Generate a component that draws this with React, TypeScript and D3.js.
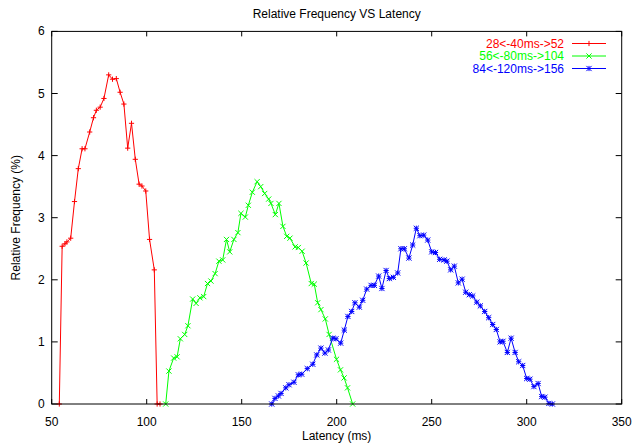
import React from "react";
import * as d3 from "d3";

const xTicks = [50, 100, 150, 200, 250, 300, 350];
const yTicks = [0, 1, 2, 3, 4, 5, 6];

const redX = [54, 55.5, 57, 58, 60, 62, 64, 66, 67.5, 70, 72, 73.5, 75.5, 77.5, 80, 82, 84, 86, 88, 90, 92, 94, 96, 97.5, 99.5, 101.5, 104, 105.5, 107];
const redY = [0, 2.54, 2.58, 2.61, 2.67, 3.26, 3.79, 4.11, 4.11, 4.38, 4.61, 4.73, 4.78, 4.92, 5.30, 5.23, 5.24, 5.02, 4.83, 4.12, 4.52, 3.94, 3.54, 3.51, 3.43, 2.65, 2.16, 0, 0];

const greenX = [110, 111.7, 114.2, 116, 117.7, 120, 121.7, 124.2, 126, 128, 130, 132, 133.8, 136, 138, 140, 142, 143.7, 145.9, 148, 149.6, 151.9, 153.5, 155.6, 158.1, 160, 162.1, 164.2, 165.4, 167.7, 169.6, 171.7, 173.7, 175.4, 178.1, 179.8, 181.8, 183.9, 186.6, 188.2, 190, 191.7, 194, 196, 199.9, 202, 203.9, 205.7, 208.4];
const greenY = [0, 0.53, 0.74, 0.76, 1.05, 1.12, 1.26, 1.69, 1.62, 1.71, 1.73, 1.94, 1.98, 2.10, 2.30, 2.32, 2.65, 2.45, 2.65, 2.76, 3.07, 3.01, 3.20, 3.41, 3.58, 3.50, 3.39, 3.30, 3.23, 3.05, 3.23, 2.86, 2.70, 2.67, 2.53, 2.52, 2.46, 2.27, 1.94, 1.93, 1.63, 1.52, 1.37, 1.12, 0.72, 0.55, 0.42, 0.26, 0];

const blueX = [165.8, 167.5, 169.3, 170.7, 173.2, 174.9, 177.5, 179.8, 181.6, 184.5, 187.4, 189.5, 191.7, 193.8, 195.6, 197.9, 199.6, 202.1, 204, 205.9, 207.9, 209.6, 211.9, 213.7, 215.8, 218.1, 219.8, 222.1, 223.8, 226, 227.7, 229.8, 232.1, 233.8, 235.6, 238, 240, 241.9, 243.8, 245.8, 247.9, 250, 252, 254.2, 256.5, 258, 260, 261.9, 264, 266, 267.9, 269.8, 271.6, 273.7, 275.6, 277.9, 280, 282.1, 284, 286, 287.5, 289.8, 291.8, 293.9, 295.8, 297.9, 300, 301.7, 303.8, 306, 307.9, 309.6, 311.7, 313.5];
const blueY = [0, 0.09, 0.13, 0.17, 0.26, 0.31, 0.35, 0.47, 0.48, 0.57, 0.64, 0.79, 0.90, 0.82, 0.87, 1.06, 1.05, 0.98, 1.19, 1.41, 1.49, 1.63, 1.56, 1.67, 1.85, 1.91, 1.91, 2.06, 1.86, 2.15, 2.02, 2.04, 2.11, 2.50, 2.50, 2.35, 2.56, 2.83, 2.71, 2.72, 2.64, 2.45, 2.44, 2.33, 2.32, 2.30, 2.16, 2.22, 1.95, 2.01, 1.80, 1.76, 1.74, 1.64, 1.58, 1.49, 1.39, 1.28, 1.20, 1.00, 1.01, 0.83, 1.06, 0.83, 0.68, 0.62, 0.41, 0.40, 0.28, 0.33, 0.12, 0.11, 0.01, 0];

const seriesNames = ["28<-40ms->52", "56<-80ms->104", "84<-120ms->156"];
const seriesColors = ["#ff0000", "#00ff00", "#0000ff"];
const seriesMarkers = ["plus", "cross", "star"];

const W = 634, H = 444;
const font = "'Liberation Sans', Arial, Helvetica, sans-serif";

function Marker({ kind, cx, cy, color }: { kind: string; cx: number; cy: number; color: string }) {
  const s = 2.6;
  const plus = `M${cx - s},${cy}H${cx + s}M${cx},${cy - s}V${cy + s}`;
  const cross = `M${cx - s},${cy - s}L${cx + s},${cy + s}M${cx - s},${cy + s}L${cx + s},${cy - s}`;
  const d = kind === "plus" ? plus : kind === "cross" ? cross : plus + cross;
  return <path d={d} stroke={color} strokeWidth={1} fill="none" />;
}

export default function App() {
  const x = d3.scaleLinear().domain([50, 350]).range([51.7, 621.7]);
  const y = d3.scaleLinear().domain([0, 6]).range([404, 31.4]);
  const left = x(50), right = x(350), top = y(6), bottom = y(0);
  const line = d3.line<[number, number]>().x((d) => x(d[0])).y((d) => y(d[1]));
  const series = [
    redX.map((v, i) => [v, redY[i]] as [number, number]),
    greenX.map((v, i) => [v, greenY[i]] as [number, number]),
    blueX.map((v, i) => [v, blueY[i]] as [number, number]),
  ];
  const legendY = [43.5, 56, 68.5];
  return (
    <svg width={W} height={H} style={{ position: "absolute", left: 0, top: 0, background: "#fff" }} fontFamily={font}>
      <rect x={0} y={0} width={W} height={H} fill="#fff" />
      {/* ticks */}
      {xTicks.map((t) => (
        <g key={"xt" + t}>
          <line x1={x(t)} x2={x(t)} y1={bottom} y2={bottom - 5} stroke="#000" />
          <line x1={x(t)} x2={x(t)} y1={top} y2={top + 5} stroke="#000" />
          <text x={x(t)} y={bottom + 22} textAnchor="middle" fontSize={12} fill="#000">{t}</text>
        </g>
      ))}
      {yTicks.map((t) => (
        <g key={"yt" + t}>
          <line x1={left} x2={left + 6} y1={y(t)} y2={y(t)} stroke="#000" />
          <line x1={right} x2={right - 6} y1={y(t)} y2={y(t)} stroke="#000" />
          <text x={left - 7} y={y(t) + 4} textAnchor="end" fontSize={12} fill="#000">{t}</text>
        </g>
      ))}
      {series.map((s, i) => (
        <g key={"s" + i}>
          <path d={line(s) || ""} fill="none" stroke={seriesColors[i]} strokeWidth={1} />
          {s.map((p, j) => (
            <Marker key={j} kind={seriesMarkers[i]} cx={x(p[0])} cy={y(p[1])} color={seriesColors[i]} />
          ))}
        </g>
      ))}
      {/* legend */}
      {seriesNames.map((n, i) => (
        <g key={"l" + i}>
          <text x={564} y={legendY[i] + 4} textAnchor="end" fontSize={12} fill={seriesColors[i]}>{n}</text>
          <line x1={572} x2={606} y1={legendY[i]} y2={legendY[i]} stroke={seriesColors[i]} />
          <Marker kind={seriesMarkers[i]} cx={589} cy={legendY[i]} color={seriesColors[i]} />
        </g>
      ))}
      <rect x={left} y={top} width={right - left} height={bottom - top} fill="none" stroke="#000" strokeWidth={1} />
      <text x={(left + right) / 2} y={18} textAnchor="middle" fontSize={12} fill="#000">Relative Frequency VS Latency</text>
      <text x={(left + right) / 2} y={440} textAnchor="middle" fontSize={12} fill="#000">Latency (ms)</text>
      <text transform={`translate(20,${(top + bottom) / 2}) rotate(-90)`} textAnchor="middle" fontSize={12} fill="#000">Relative Frequency (%)</text>
    </svg>
  );
}
